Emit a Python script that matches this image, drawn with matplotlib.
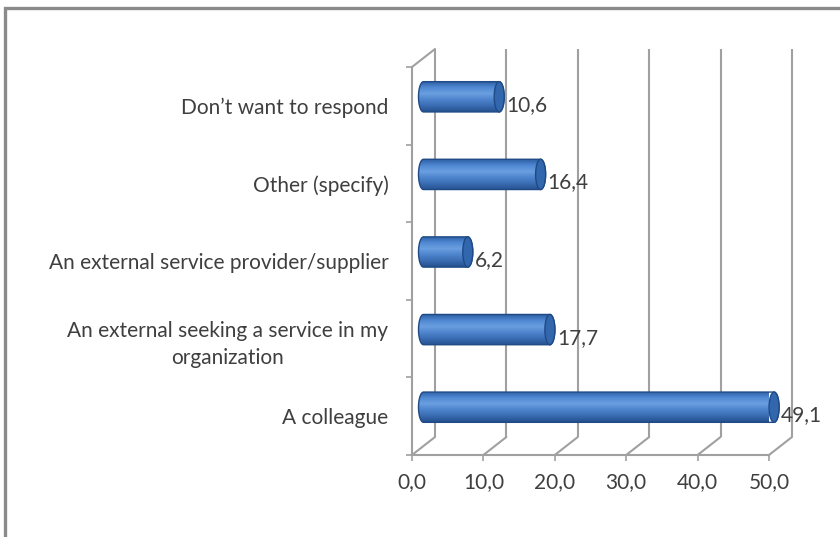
import numpy as np
import matplotlib
matplotlib.use("Agg")
import matplotlib.pyplot as plt
import matplotlib.transforms as mtransforms
from matplotlib.patches import PathPatch, Ellipse, Rectangle, ConnectionPatch
from matplotlib.path import Path
from matplotlib.colors import LinearSegmentedColormap

# ─── Data ─────────────────────────────────────────────────────────────────────
categories = [
    "A colleague",
    "An external seeking a service in my\norganization",
    "An external service provider/supplier",
    "Other (specify)",
    "Don\u2019t want to respond",
]
values = [49.1, 17.7, 6.2, 16.4, 10.6]
value_labels = ["49,1", "17,7", "6,2", "16,4", "10,6"]
xticks = [0, 10, 20, 30, 40, 50]
xtick_labels = ["0,0", "10,0", "20,0", "30,0", "40,0", "50,0"]

# ─── Style ────────────────────────────────────────────────────────────────────
plt.rcParams["font.family"] = ["Lato", "DejaVu Sans"]
TXT = "#3f3f3f"
GRID = "#a0a0a0"
EDGE = "#1f4a85"
FS = 15

fig = plt.figure(figsize=(8.4, 5.37), dpi=100)
fig.patch.set_facecolor("white")

# front plane of the 3D box
ax = fig.add_axes([412 / 840, 82 / 537, 357 / 840, 388 / 537])
ax.set_xlim(0, 50)
ax.set_ylim(-0.5, len(categories) - 0.5)
ax.patch.set_alpha(0)

# depth offsets (pixels) for the middle (bars) and back (walls) planes
mid = mtransforms.offset_copy(ax.transData, fig=fig, x=11.5, y=9, units="dots")
back = mtransforms.offset_copy(ax.transData, fig=fig, x=23, y=18, units="dots")

ytop = len(categories) - 0.5

# back wall gridlines
ax.vlines(xticks, -0.5, ytop, colors=GRID, lw=1.5, transform=back, clip_on=False, zorder=1)
# floor depth lines and the top-left edge
for x in xticks:
    ax.add_artist(ConnectionPatch((x, -0.5), (x, -0.5), ax.transData, back,
                                  color=GRID, lw=1.5, zorder=1, clip_on=False))
ax.add_artist(ConnectionPatch((0, ytop), (0, ytop), ax.transData, back,
                              color=GRID, lw=1.5, zorder=1, clip_on=False))

# front edges
for s in ["top", "right"]:
    ax.spines[s].set_visible(False)
for s in ["left", "bottom"]:
    ax.spines[s].set_color(GRID)
    ax.spines[s].set_linewidth(1.5)
    ax.spines[s].set_zorder(1)

ax.set_xticks(xticks)
ax.set_xticklabels(xtick_labels, fontsize=FS, color=TXT)
ax.tick_params(axis="x", length=4, width=1.2, color=GRID, pad=8)
ax.set_yticks(range(len(categories)))
ax.set_yticklabels(categories, fontsize=FS, color=TXT)
ax.tick_params(axis="y", which="major", length=0, pad=17)
ax.set_yticks(np.arange(-0.5, ytop + 0.01, 1.0), minor=True)
ax.tick_params(axis="y", which="minor", length=4, width=1.2, color=GRID)
for lab in ax.get_yticklabels():
    if "\n" in lab.get_text():
        lab.set_multialignment("center")
        lab.set_linespacing(1.45)

# ─── Cylinders ────────────────────────────────────────────────────────────────
cmap = LinearSegmentedColormap.from_list(
    "cyl", ["#2c5ea3", "#4f88d2", "#6a9fe0", "#4d84cc", "#3a6cb3", "#24508e"])
grad = np.linspace(0, 1, 64).reshape(-1, 1)
a = 0.7      # half-width of end caps (x units)
b = 0.195    # half-height of cylinder (y units)
t = np.linspace(np.pi / 2, -np.pi / 2, 40)

for i, (v, lab) in enumerate(zip(values, value_labels)):
    right = np.column_stack([v + a * np.cos(t), i + b * np.sin(t)])
    left = np.column_stack([-a * np.cos(t), i - b * np.sin(t)])
    verts = np.vstack([right, left, right[:1]])
    outline = PathPatch(Path(verts, closed=True), transform=mid, facecolor="none",
                        edgecolor=EDGE, lw=1.0, zorder=4, clip_on=False)
    ax.add_patch(outline)
    im = ax.imshow(grad, cmap=cmap, aspect="auto", origin="upper",
                   extent=[-a, v + a, i - b, i + b], transform=mid, zorder=3,
                   interpolation="bilinear")
    im.set_clip_path(outline)
    cap = Ellipse((v, i), 2 * a, 2 * b, transform=mid, facecolor="#3266ad",
                  edgecolor=EDGE, lw=1.0, zorder=5, clip_on=False)
    ax.add_patch(cap)
    ax.text(v + a, i, lab, transform=mtransforms.offset_copy(mid, fig=fig, x=2, y=-8, units="dots"),
            ha="left", va="center", fontsize=FS, color=TXT, zorder=6, clip_on=False)

ax.set_xlim(0, 50)
ax.set_ylim(-0.5, ytop)

# outer chart frame
fig.patches.append(Rectangle((5 / 840, -0.2), 1.2, (537 - 8) / 537 + 0.2,
                             transform=fig.transFigure, fill=False,
                             edgecolor="#8a8a8a", lw=2.4, zorder=10))

fig.savefig("out.png", dpi=100, facecolor="white")
